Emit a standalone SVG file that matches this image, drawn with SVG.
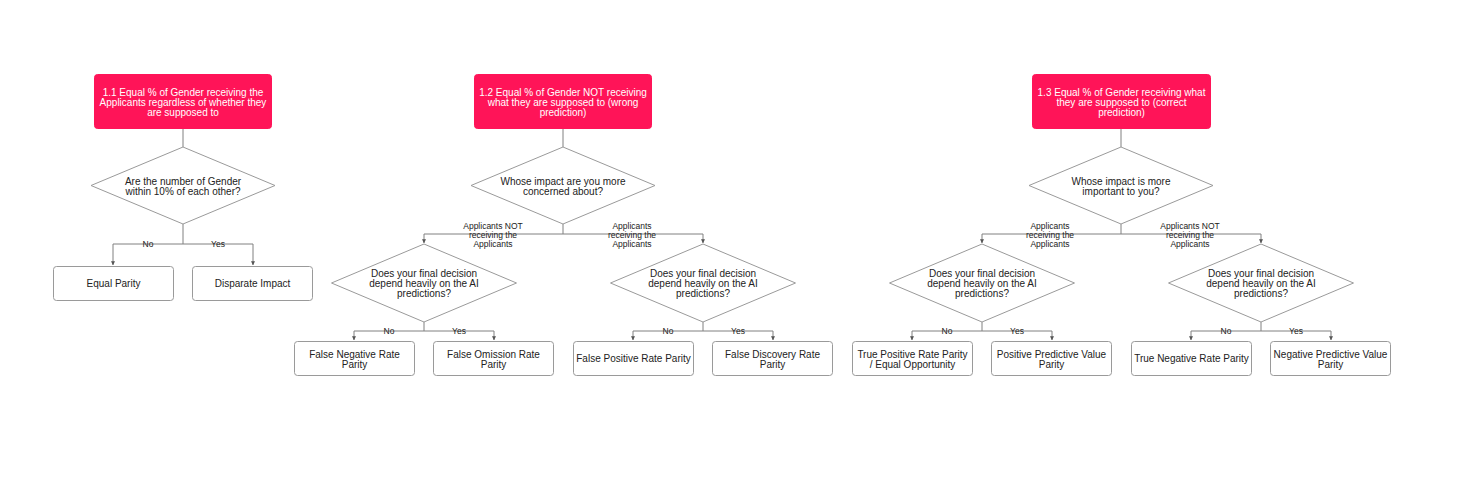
<svg xmlns="http://www.w3.org/2000/svg" width="1467" height="478" viewBox="0 0 1467 478">
<style>
text{font-family:"Liberation Sans",Arial,sans-serif;fill:#222;text-anchor:middle;dominant-baseline:central}
.t{font-size:10px}
.w{fill:#fff}
.s{font-size:8.5px}
.red{fill:#ff1458;stroke:#ff1458}
.box{fill:#fff;stroke:#9a9a9a;stroke-width:1}
.dia{fill:#fff;stroke:#9a9a9a;stroke-width:1}
.c{fill:none;stroke:#808080;stroke-width:1}
</style>
<defs>
<marker id="ah" viewBox="0 0 6 6" refX="5.5" refY="3" markerWidth="4" markerHeight="4" orient="auto" markerUnits="userSpaceOnUse">
<path d="M0,0 L6,3 L0,6 z" fill="#555"/>
</marker>
</defs>
<rect width="1467" height="478" fill="#fff"/>
<g id="connectors">
<!-- tree 1 -->
<path class="c" d="M183,129 V147"/>
<path class="c" d="M183,224 V244 M113,244 H253"/>
<path class="c" d="M113,244 V265" marker-end="url(#ah)"/>
<path class="c" d="M253,244 V265" marker-end="url(#ah)"/>
<!-- tree 2 -->
<path class="c" d="M563,129 V147"/>
<path class="c" d="M563,224 V234 M424,234 H703"/>
<path class="c" d="M424,234 V243" marker-end="url(#ah)"/>
<path class="c" d="M703,234 V243" marker-end="url(#ah)"/>
<path class="c" d="M424,322 V331 M354,331 H494"/>
<path class="c" d="M354,331 V340" marker-end="url(#ah)"/>
<path class="c" d="M494,331 V340" marker-end="url(#ah)"/>
<path class="c" d="M703,322 V331 M633,331 H773"/>
<path class="c" d="M633,331 V340" marker-end="url(#ah)"/>
<path class="c" d="M773,331 V340" marker-end="url(#ah)"/>
<!-- tree 3 -->
<path class="c" d="M1121,129 V147"/>
<path class="c" d="M1121,224 V234 M982,234 H1261"/>
<path class="c" d="M982,234 V243" marker-end="url(#ah)"/>
<path class="c" d="M1261,234 V243" marker-end="url(#ah)"/>
<path class="c" d="M982,322 V331 M912,331 H1052"/>
<path class="c" d="M912,331 V340" marker-end="url(#ah)"/>
<path class="c" d="M1052,331 V340" marker-end="url(#ah)"/>
<path class="c" d="M1261,322 V331 M1191,331 H1331"/>
<path class="c" d="M1191,331 V340" marker-end="url(#ah)"/>
<path class="c" d="M1331,331 V340" marker-end="url(#ah)"/>
<!-- labels -->
<text class="s" x="148" y="244">No</text>
<text class="s" x="218" y="244">Yes</text>
<text class="s" x="389" y="331">No</text>
<text class="s" x="459" y="331">Yes</text>
<text class="s" x="668" y="331">No</text>
<text class="s" x="738" y="331">Yes</text>
<text class="s" x="947" y="331">No</text>
<text class="s" x="1017" y="331">Yes</text>
<text class="s" x="1226" y="331">No</text>
<text class="s" x="1296" y="331">Yes</text>
<text class="s" x="493"><tspan x="493" y="225.5">Applicants NOT</tspan><tspan x="493" y="234.5">receiving the</tspan><tspan x="493" y="243.5">Applicants</tspan></text>
<text class="s" x="632"><tspan x="632" y="225.5">Applicants</tspan><tspan x="632" y="234.5">receiving the</tspan><tspan x="632" y="243.5">Applicants</tspan></text>
<text class="s" x="1050"><tspan x="1050" y="225.5">Applicants</tspan><tspan x="1050" y="234.5">receiving the</tspan><tspan x="1050" y="243.5">Applicants</tspan></text>
<text class="s" x="1190"><tspan x="1190" y="225.5">Applicants NOT</tspan><tspan x="1190" y="234.5">receiving the</tspan><tspan x="1190" y="243.5">Applicants</tspan></text>
</g>
<!-- Tree 1 -->
<g id="n1_1">
<rect class="red" x="94.5" y="74.5" width="177" height="54" rx="3"/>
<text class="t w"><tspan x="183" y="92">1.1 Equal % of Gender receiving the</tspan><tspan x="183" y="102">Applicants regardless of whether they</tspan><tspan x="183" y="112">are supposed to</tspan></text>
</g>
<g id="q1">
<polygon class="dia" points="183,147 275,185.5 183,224 91,185.5"/>
<text class="t"><tspan x="183" y="181">Are the number of Gender</tspan><tspan x="183" y="191">within 10% of each other?</tspan></text>
</g>
<g id="equal_parity">
<rect class="box" x="53.5" y="266.5" width="120" height="34" rx="3"/>
<text class="t" x="113.5" y="283.5">Equal Parity</text>
</g>
<g id="disparate_impact">
<rect class="box" x="192.5" y="266.5" width="120" height="34" rx="3"/>
<text class="t" x="252.5" y="283.5">Disparate Impact</text>
</g>
<!-- Tree 2 -->
<g id="n1_2">
<rect class="red" x="474.5" y="74.5" width="177" height="54" rx="3"/>
<text class="t w"><tspan x="563" y="92">1.2 Equal % of Gender NOT receiving</tspan><tspan x="563" y="102">what they are supposed to (wrong</tspan><tspan x="563" y="112">prediction)</tspan></text>
</g>
<g id="q2">
<polygon class="dia" points="563,147 655,185.5 563,224 471,185.5"/>
<text class="t"><tspan x="563" y="181">Whose impact are you more</tspan><tspan x="563" y="191">concerned about?</tspan></text>
</g>
<g id="q2a">
<polygon class="dia" points="424,244 516.5,283 424,322 331.5,283"/>
<text class="t"><tspan x="424" y="273">Does your final decision</tspan><tspan x="424" y="283">depend heavily on the AI</tspan><tspan x="424" y="293">predictions?</tspan></text>
</g>
<g id="q2b">
<polygon class="dia" points="703,244 795.5,283 703,322 610.5,283"/>
<text class="t"><tspan x="703" y="273">Does your final decision</tspan><tspan x="703" y="283">depend heavily on the AI</tspan><tspan x="703" y="293">predictions?</tspan></text>
</g>
<g id="fnr">
<rect class="box" x="294.5" y="341.5" width="120" height="34" rx="3"/>
<text class="t"><tspan x="354.5" y="353.5">False Negative Rate</tspan><tspan x="354.5" y="363.5">Parity</tspan></text>
</g>
<g id="for">
<rect class="box" x="433.5" y="341.5" width="120" height="34" rx="3"/>
<text class="t"><tspan x="493.5" y="353.5">False Omission Rate</tspan><tspan x="493.5" y="363.5">Parity</tspan></text>
</g>
<g id="fpr">
<rect class="box" x="573.5" y="341.5" width="120" height="34" rx="3"/>
<text class="t" x="633.5" y="358.5">False Positive Rate Parity</text>
</g>
<g id="fdr">
<rect class="box" x="712.5" y="341.5" width="120" height="34" rx="3"/>
<text class="t"><tspan x="772.5" y="353.5">False Discovery Rate</tspan><tspan x="772.5" y="363.5">Parity</tspan></text>
</g>
<!-- Tree 3 -->
<g id="n1_3">
<rect class="red" x="1032.5" y="74.5" width="178" height="54" rx="3"/>
<text class="t w"><tspan x="1121.5" y="92">1.3 Equal % of Gender receiving what</tspan><tspan x="1121.5" y="102">they are supposed to (correct</tspan><tspan x="1121.5" y="112">prediction)</tspan></text>
</g>
<g id="q3">
<polygon class="dia" points="1121,147 1213,185.5 1121,224 1029,185.5"/>
<text class="t"><tspan x="1121" y="181">Whose impact is more</tspan><tspan x="1121" y="191">important to you?</tspan></text>
</g>
<g id="q3a">
<polygon class="dia" points="982,244 1074.5,283 982,322 889.5,283"/>
<text class="t"><tspan x="982" y="273">Does your final decision</tspan><tspan x="982" y="283">depend heavily on the AI</tspan><tspan x="982" y="293">predictions?</tspan></text>
</g>
<g id="q3b">
<polygon class="dia" points="1261,244 1353.5,283 1261,322 1168.5,283"/>
<text class="t"><tspan x="1261" y="273">Does your final decision</tspan><tspan x="1261" y="283">depend heavily on the AI</tspan><tspan x="1261" y="293">predictions?</tspan></text>
</g>
<g id="tpr">
<rect class="box" x="852.5" y="341.5" width="120" height="34" rx="3"/>
<text class="t"><tspan x="912.5" y="353.5">True Positive Rate Parity</tspan><tspan x="912.5" y="363.5">/ Equal Opportunity</tspan></text>
</g>
<g id="ppv">
<rect class="box" x="991.5" y="341.5" width="120" height="34" rx="3"/>
<text class="t"><tspan x="1051.5" y="353.5">Positive Predictive Value</tspan><tspan x="1051.5" y="363.5">Parity</tspan></text>
</g>
<g id="tnr">
<rect class="box" x="1131.5" y="341.5" width="120" height="34" rx="3"/>
<text class="t" x="1191.5" y="358.5">True Negative Rate Parity</text>
</g>
<g id="npv">
<rect class="box" x="1270.5" y="341.5" width="120" height="34" rx="3"/>
<text class="t"><tspan x="1330.5" y="353.5">Negative Predictive Value</tspan><tspan x="1330.5" y="363.5">Parity</tspan></text>
</g>
</svg>
